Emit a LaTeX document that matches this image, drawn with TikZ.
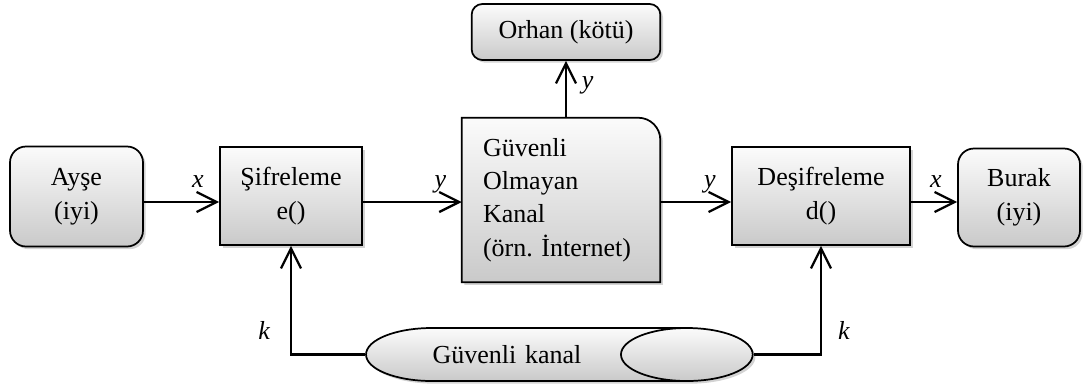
\documentclass[tikz,border=0pt]{standalone}
\usepackage{fontspec}
\setmainfont{Liberation Serif}
\usetikzlibrary{shapes,arrows.meta,shadows,backgrounds}

\tikzset{
  govde/.style={draw, line width=1.3pt, top color=gray!3, bottom color=gray!42,
    drop shadow={shadow xshift=2pt, shadow yshift=-2pt, opacity=0.35}},
  kutu/.style={govde, align=center, inner sep=0pt, font=\fontsize{19.5}{25.5}\selectfont},
  yuvarlak/.style={kutu, rounded corners=12pt},
  ok/.style={line width=1.7pt, -{Straight Barb[length=15pt, width=15pt, line width=1.7pt]}},
  etiket/.style={inner sep=1pt, font=\fontsize{19.5}{24}\selectfont\itshape},
  oketiket/.style={etiket, pos=1, anchor=base, xshift=-16pt, yshift=11pt}
}

\begin{document}
\begin{tikzpicture}[x=0.75pt,y=-0.75pt]
\useasboundingbox (0,0) rectangle (1084,387);
\def\oy{202} % ok seviyesi
\coordinate (seviye) at (0,\oy);

% kutular
\node[yuvarlak, minimum width=99.75pt, minimum height=75pt] (ayse) at (76.5,196.5) {Ayşe\\(iyi)};
\node[kutu, minimum width=106.5pt, minimum height=73.5pt] (sifre) at (291,196) {Şifreleme\\e()};
\node[align=left, inner xsep=15.75pt, inner ysep=0pt, text width=117pt, minimum height=123pt,
  font=\fontsize{19.5}{25}\selectfont] (kanal) at (561,200) {Güvenli\\Olmayan\\Kanal\\(örn.\ İnternet)};
\node[yuvarlak, rounded corners=8pt, minimum width=141.5pt, minimum height=42pt] (orhan) at (566,32) {Orhan (kötü)};
\node[kutu, minimum width=133.5pt, minimum height=73.5pt] (desif) at (821,196) {Deşifreleme\\d()};
\node[yuvarlak, minimum width=91.5pt, minimum height=73.5pt] (burak) at (1019,197.5) {Burak\\(iyi)};
\node[cylinder, govde, shape aspect=7.2, minimum width=39.75pt, minimum height=290pt, inner sep=0pt,
  text width=140pt, align=left, font=\fontsize{19.5}{24}\selectfont] (gkanal) at (526,354.5) {Güvenli kanal};

% kanal kutusu, tek kose yuvarlak
\begin{scope}[on background layer]
\draw[govde] (kanal.south west) -- (kanal.north west) -- ([xshift=-16.5pt]kanal.north east)
  arc[start angle=90, end angle=0, radius=16.5pt] -- (kanal.south east) -- cycle;
\end{scope}

% oklar
\draw[ok] (ayse.east |- seviye) -- node[oketiket] {x} (sifre.west |- seviye);
\draw[ok] (sifre.east |- seviye) -- node[oketiket] {y} (kanal.west |- seviye);
\draw[ok] (kanal.east |- seviye) -- node[oketiket] {y} (desif.west |- seviye);
\draw[ok] (desif.east |- seviye) -- node[oketiket] {x} (burak.west |- seviye);
\draw[ok] (orhan.south |- kanal.north) -- node[etiket, pos=0.52, anchor=base west, xshift=10pt] {y} (orhan.south);
\draw[ok] (gkanal.west) -| node[etiket, pos=0.61, left=14pt] {k} (sifre.south);
\draw[ok] (gkanal.east) -| node[etiket, pos=0.61, right=11pt] {k} (desif.south);
\end{tikzpicture}
\end{document}
